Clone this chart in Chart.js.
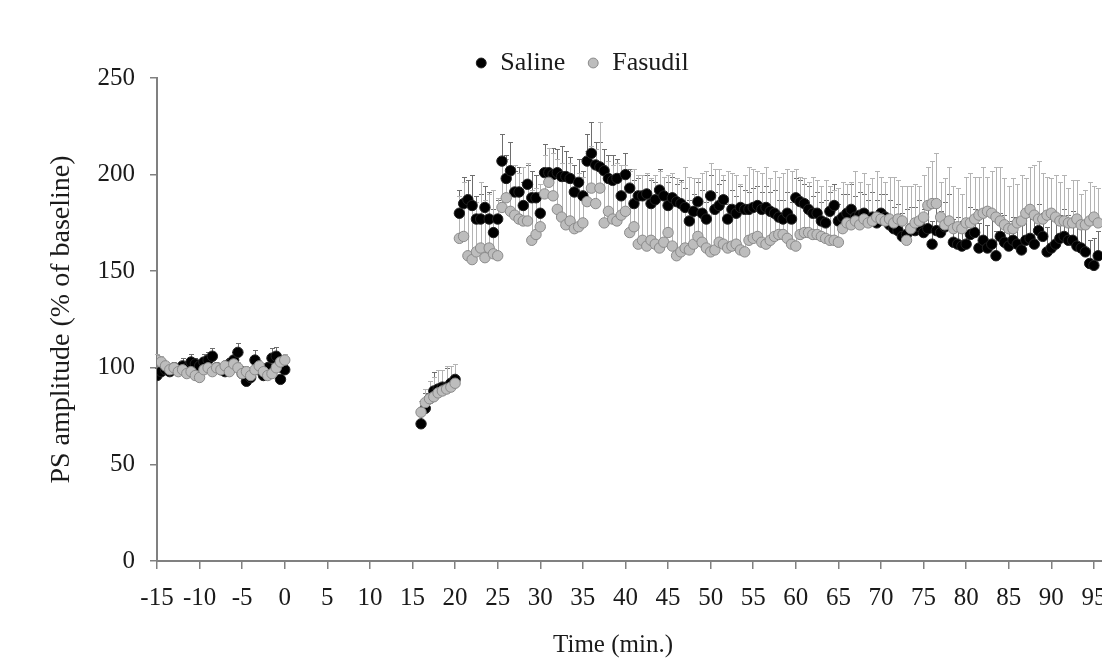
<!DOCTYPE html>
<html lang="en">
<head>
<meta charset="UTF-8">
<title>PS amplitude - Saline vs Fasudil</title>
<script src="https://cdn.jsdelivr.net/npm/chart.js"></script>
<style>
body {
  margin: 0;
  background: #ffffff;
}
/* the original figure is cut off on the right, so the canvas is wider than the window */
.frame {
  width: 1102px;
  height: 658px;
  overflow: hidden;
}
</style>
</head>
<body>
<div class="frame">
  <canvas id="psChart" width="1164" height="658"></canvas>
</div>

<script>
// sampling grid: one sweep every 30 s
function halfSteps(from, to) {
  const out = [];
  for (let t = from; t <= to + 1e-9; t += 0.5) out.push(t);
  return out;
}
const baseTimes = halfSteps(-15, 0);     // baseline
const postTimes = halfSteps(16, 95.5);   // after tetanus

const xTicks = [-15, -10, -5, 0, 5, 10, 15, 20, 25, 30, 35, 40, 45, 50, 55, 60, 65, 70, 75, 80, 85, 90, 95];

// Saline, % of baseline
const salineBase = [96, 98, 99, 98, 100, 99, 101, 100, 103, 102, 101, 103, 104, 106, 100, 99, 98, 102, 104, 108,
  97, 93, 95, 104, 99, 96, 100, 105, 106, 94, 99];
const salineBaseErr = [4, 3, 3, 4, 3, 3, 4, 3, 4, 3, 3, 4, 4, 4, 3, 3, 4, 3, 4, 5, 4, 3, 4, 5, 4, 4, 3, 5, 5, 4, 4];
const salinePost = [
  71, 79, 84, 88, 89, 90, 90, 92, 94,
  180, 185, 187, 184, 177, 177, 183, 177, 170, 177,
  207, 198, 202, 191, 191, 184, 195, 188, 188, 180,
  201, 201, 200, 201, 199, 199, 198, 191, 196, 189,
  207, 211, 205, 204, 202, 198, 197, 198, 189, 200,
  193, 185, 189, 189, 190, 185, 187, 192, 189, 184,
  188, 186, 185, 183, 176, 181, 186, 180, 177, 189,
  182, 184, 187, 177, 182, 180, 183, 182, 182, 183,
  184, 182, 183, 181, 180, 178, 177, 180, 177, 188,
  186, 185, 182, 180, 180, 176, 175, 181, 184, 176,
  178, 180, 182, 178, 179, 180, 176, 178, 175, 180,
  178, 174, 172, 171, 168, 169, 172, 171, 173, 170,
  172, 164, 171, 170, 173, 175, 165, 164, 163, 164,
  169, 170, 162, 166, 162, 164, 158, 168, 165, 163,
  166, 164, 161, 166, 167, 164, 171, 168, 160, 162,
  164, 167, 168, 166, 166, 163, 162, 160, 154, 153,
  158
];
const salinePostErr = [
  6, 8, 9, 10, 10, 9, 10, 9, 8,
  12, 14, 10, 16, 12, 13, 11, 14, 12, 10,
  14, 12, 15, 11, 13, 12, 10, 14, 12, 11,
  15, 13, 14, 12, 16, 13, 11, 14, 12, 13,
  14, 16, 12, 13, 11, 12, 13, 10, 12, 11,
  10, 12, 9, 11, 10, 12, 9, 11, 10, 12,
  11, 9, 12, 10, 11, 9, 10, 12, 9, 11,
  9, 11, 10, 8, 10, 9, 11, 10, 9, 10,
  10, 9, 11, 10, 12, 9, 10, 11, 9, 10,
  11, 10, 12, 9, 11, 10, 12, 10, 11, 9,
  12, 10, 13, 11, 12, 10, 11, 13, 12, 10,
  12, 13, 11, 14, 12, 13, 11, 12, 14, 12,
  13, 12, 14, 11, 13, 15, 12, 14, 13, 12,
  14, 12, 13, 15, 12, 14, 13, 12, 14, 13,
  12, 14, 13, 15, 12, 13, 14, 12, 13, 15,
  13, 12, 14, 13, 15, 12, 14, 13, 12, 14,
  13
];

// Fasudil, % of baseline
const fasudilBase = [104, 103, 101, 99, 100, 98, 99, 97, 98, 96, 95, 99, 100, 98, 100, 99, 101, 98, 102, 100,
  97, 98, 96, 99, 101, 98, 96, 97, 100, 103, 104];
const fasudilBaseErr = [3, 3, 2, 3, 3, 2, 3, 2, 3, 2, 3, 3, 3, 2, 3, 3, 3, 2, 3, 3, 2, 3, 2, 3, 3, 2, 2, 3, 3, 3, 3];
const fasudilPost = [
  77, 82, 84, 85, 87, 88, 89, 90, 92,
  167, 168, 158, 156, 160, 162, 157, 162, 159, 158,
  183, 188, 181, 179, 177, 176, 176, 166, 169, 173,
  190, 196, 189, 182, 178, 174, 176, 172, 173, 175,
  186, 193, 185, 193, 175, 181, 177, 176, 179, 181,
  170, 173, 164, 166, 163, 166, 164, 162, 165, 170,
  163, 158, 160, 162, 161, 164, 168, 165, 162, 160,
  161, 165, 164, 162, 163, 164, 161, 160, 166, 167,
  168, 165, 164, 166, 168, 169, 169, 167, 164, 163,
  169, 170, 170, 169, 169, 168, 167, 166, 166, 165,
  172, 175, 174, 176, 174, 177, 175, 176, 178, 177,
  176, 177, 175, 177, 176, 166, 172, 175, 176, 178,
  184, 185, 185, 178, 174, 176, 172, 173, 172, 175,
  175, 177, 179, 180, 181, 180, 178, 176, 174, 172,
  172, 175, 176, 180, 182, 179, 177, 177, 179, 180,
  178, 176, 176, 175, 175, 177, 174, 174, 176, 178,
  175
];
const fasudilPostErr = [
  6, 7, 9, 10, 12, 11, 12, 11, 10,
  22, 28, 32, 30, 26, 34, 30, 28, 33, 30,
  24, 20, 22, 26, 24, 28, 30, 26, 24, 22,
  20, 18, 22, 26, 28, 24, 30, 26, 28, 24,
  26, 22, 28, 34, 30, 26, 28, 30, 26, 24,
  32, 30, 36, 34, 38, 32, 36, 40, 34, 30,
  38, 40, 36, 42, 38, 34, 30, 36, 40, 46,
  42, 38, 36, 40, 38, 36, 34, 40, 38, 36,
  34, 36, 40, 32, 34, 30, 32, 36, 38, 40,
  30, 28, 26, 30, 28, 26, 30, 28, 26, 28,
  24, 20, 22, 26, 22, 24, 20, 22, 24, 22,
  20, 22, 24, 20, 18, 28, 22, 20, 18, 22,
  20, 22, 26, 18, 24, 28, 22, 20, 18, 24,
  26, 22, 20, 24, 18, 22, 26, 28, 24, 22,
  26, 20, 24, 18, 22, 26, 30, 24, 20, 18,
  22, 20, 24, 18, 22, 20, 16, 18, 20, 16,
  18
];

function toPoints(times, values, errs) {
  return times.map((t, i) => ({ x: t, y: values[i], err: errs[i] }));
}

const salinePoints = toPoints(baseTimes, salineBase, salineBaseErr)
  .concat(toPoints(postTimes, salinePost, salinePostErr));
const fasudilPoints = toPoints(baseTimes, fasudilBase, fasudilBaseErr)
  .concat(toPoints(postTimes, fasudilPost, fasudilPostErr));

// upward-only SEM bars with a small cap, drawn under the markers
const errorBars = {
  id: 'errorBars',
  beforeDatasetsDraw(chart) {
    const ctx = chart.ctx;
    const x = chart.scales.x;
    const y = chart.scales.y;
    chart.data.datasets.forEach((ds, i) => {
      if (!chart.isDatasetVisible(i)) return;
      ctx.save();
      ctx.strokeStyle = ds.errorColor;
      ctx.lineWidth = 1;
      ds.data.forEach(p => {
        const px = Math.round(x.getPixelForValue(p.x)) + 0.5;
        const py = y.getPixelForValue(p.y);
        const top = Math.round(y.getPixelForValue(p.y + p.err)) + 0.5;
        ctx.beginPath();
        ctx.moveTo(px, py);
        ctx.lineTo(px, top);
        ctx.moveTo(px - 2.5, top);
        ctx.lineTo(px + 2.5, top);
        ctx.stroke();
      });
      ctx.restore();
    });
  }
};

// x axis title sits left of the plot centre in the original figure
const xTitle = {
  id: 'xTitle',
  afterDraw(chart) {
    const ctx = chart.ctx;
    const visibleRight = 1069;
    ctx.save();
    ctx.font = '25px "Liberation Serif", "Times New Roman", serif';
    ctx.fillStyle = '#1a1a1a';
    ctx.textAlign = 'center';
    ctx.textBaseline = 'middle';
    ctx.fillText('Time (min.)', (chart.chartArea.left + visibleRight) / 2, 645);
    ctx.restore();
  }
};

Chart.defaults.font.family = '"Liberation Serif", "Times New Roman", serif';
Chart.defaults.color = '#1a1a1a';

const axisGrey = '#808080';

new Chart(document.getElementById('psChart'), {
  type: 'scatter',
  data: {
    datasets: [
      {
        label: 'Saline',
        data: salinePoints,
        backgroundColor: '#000000',
        borderColor: '#222222',
        borderWidth: 1,
        pointRadius: 5.2,
        errorColor: '#6e6e6e',
        order: 2
      },
      {
        label: 'Fasudil',
        data: fasudilPoints,
        backgroundColor: '#bdbdbd',
        borderColor: '#8a8a8a',
        borderWidth: 1,
        pointRadius: 5.2,
        errorColor: '#b4b4b4',
        order: 1
      }
    ]
  },
  options: {
    responsive: false,
    animation: false,
    layout: {
      padding: { top: 28, left: 0, right: 0, bottom: 31 }
    },
    plugins: {
      tooltip: { enabled: false },
      legend: {
        position: 'top',
        maxHeight: 50,
        labels: {
          usePointStyle: true,
          pointStyle: 'circle',
          boxWidth: 12,
          boxHeight: 7,
          padding: 22,
          font: { size: 26 },
          color: '#1a1a1a',
          sort: (a, b) => a.datasetIndex - b.datasetIndex
        }
      }
    },
    scales: {
      x: {
        type: 'linear',
        min: -15,
        max: 102.5,
        afterBuildTicks: scale => {
          scale.ticks = xTicks.map(v => ({ value: v }));
        },
        ticks: {
          font: { size: 25 },
          color: '#1a1a1a',
          padding: 14,
          maxRotation: 0,
          autoSkip: false
        },
        grid: {
          drawOnChartArea: false,
          drawTicks: true,
          tickLength: 8,
          color: axisGrey,
          lineWidth: 1.5
        },
        border: { display: true, color: axisGrey, width: 2 }
      },
      y: {
        min: 0,
        max: 250,
        afterFit: scale => { scale.width = 157; },
        ticks: {
          stepSize: 50,
          font: { size: 25 },
          color: '#1a1a1a',
          padding: 15
        },
        grid: {
          drawOnChartArea: false,
          drawTicks: true,
          tickLength: 7,
          color: axisGrey,
          lineWidth: 1.5
        },
        border: { display: true, color: axisGrey, width: 2 },
        title: {
          display: true,
          text: 'PS amplitude (% of baseline)',
          font: { size: 28 },
          color: '#1a1a1a',
          padding: { top: 45, bottom: 0 }
        }
      }
    }
  },
  plugins: [errorBars, xTitle]
});
</script>
</body>
</html>
